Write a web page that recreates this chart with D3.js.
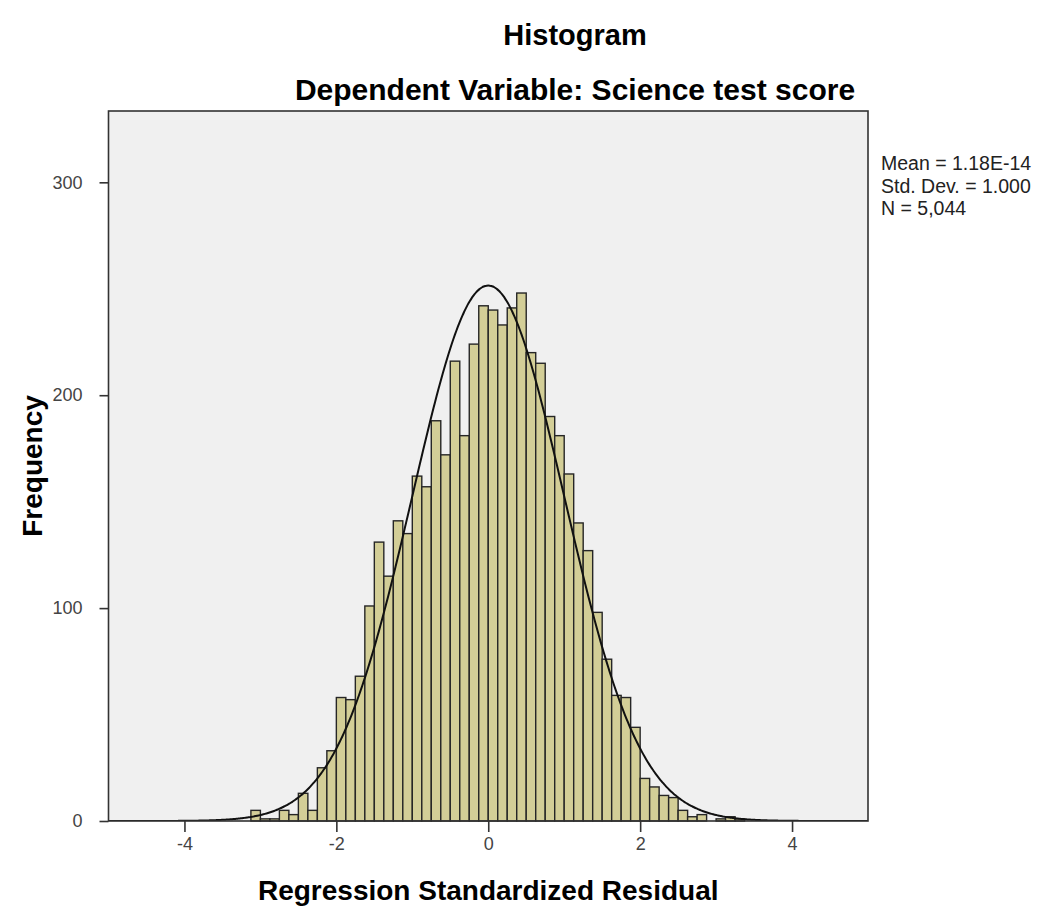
<!DOCTYPE html>
<html>
<head>
<meta charset="utf-8">
<script src="https://cdn.jsdelivr.net/npm/d3@7"></script>
<style>
  html, body { margin: 0; padding: 0; background: #fff; }
  svg text { font-family: Arial, "Liberation Sans", sans-serif; }
</style>
</head>
<body>
<div id="chart"></div>
<script>
// ---- data ----
const BIN_WIDTH = 0.125;
const binLower = [
  -3.125, -3.0, -2.875, -2.75, -2.625, -2.5, -2.375, -2.25, -2.125, -2.0,
  -1.875, -1.75, -1.625, -1.5, -1.375, -1.25, -1.125, -1.0, -0.875, -0.75,
  -0.625, -0.5, -0.375, -0.25, -0.125,
  0.0, 0.125, 0.25, 0.375, 0.5, 0.625, 0.75, 0.875, 1.0, 1.125,
  1.25, 1.375, 1.5, 1.625, 1.75, 1.875, 2.0, 2.125, 2.25, 2.375,
  2.5, 2.625, 2.75, 2.875, 3.0, 3.125, 3.25
];
const counts = [
  5, 1, 1, 5, 3, 13, 5, 25, 33, 58,
  57, 68, 101, 131, 115, 141, 135, 162, 157, 188,
  172, 216, 181, 224, 242,
  240, 233, 241, 248, 220, 215, 190, 181, 163, 140,
  127, 98, 76, 59, 58, 44, 20, 16, 12, 11,
  5, 2, 3, 0, 1, 2, 1
];
const xTicks = [-4, -2, 0, 2, 4];
const yTicks = [0, 100, 200, 300];
const statLines = ['Mean = 1.18E-14', 'Std. Dev. = 1.000', 'N = 5,044'];
const stats = { mean: 1.18e-14, sd: 1.0, n: 5044 };

const titles = ['Histogram', 'Dependent Variable: Science test score'];
const xTitle = 'Regression Standardized Residual';
const yTitle = 'Frequency';

// ---- layout ----
const W = 1039, H = 907;
const plot = { left: 108.5, right: 868, top: 111, bottom: 821 };

const svg = d3.select('#chart').append('svg')
  .attr('width', W).attr('height', H);

const x = d3.scaleLinear().domain([-5, 5]).range([plot.left, plot.right]);
const y = d3.scaleLinear().domain([0, 333.5]).range([plot.bottom, plot.top]);

// plot background
svg.append('rect')
  .attr('x', plot.left).attr('y', plot.top)
  .attr('width', plot.right - plot.left).attr('height', plot.bottom - plot.top)
  .attr('fill', '#f0f0f0');

svg.append('clipPath').attr('id', 'clip')
  .append('rect')
  .attr('x', plot.left).attr('y', plot.top)
  .attr('width', plot.right - plot.left).attr('height', plot.bottom - plot.top);

// bars
const bins = binLower.map((lo, i) => ({ lo, hi: lo + BIN_WIDTH, n: counts[i] }));
svg.append('g')
  .selectAll('rect')
  .data(bins.filter(d => d.n > 0))
  .join('rect')
  .attr('x', d => x(d.lo))
  .attr('y', d => y(d.n))
  .attr('width', d => x(d.hi) - x(d.lo))
  .attr('height', d => y(0) - y(d.n))
  .attr('fill', '#d3ce97')
  .attr('stroke', '#262626')
  .attr('stroke-width', 1.4);

// normal curve from the stated mean / sd / N
const curvePts = d3.range(-5, 5.001, 0.02).map(v => [
  v,
  stats.n * BIN_WIDTH * Math.exp(-0.5 * ((v - stats.mean) / stats.sd) ** 2) / (stats.sd * Math.sqrt(2 * Math.PI))
]);
svg.append('path')
  .datum(curvePts)
  .attr('clip-path', 'url(#clip)')
  .attr('fill', 'none')
  .attr('stroke', '#111')
  .attr('stroke-width', 2)
  .attr('d', d3.line().x(d => x(d[0])).y(d => y(d[1])).curve(d3.curveBasis));

// frame
svg.append('rect')
  .attr('x', plot.left).attr('y', plot.top)
  .attr('width', plot.right - plot.left).attr('height', plot.bottom - plot.top)
  .attr('fill', 'none')
  .attr('stroke', '#333')
  .attr('stroke-width', 1.6);

// axes (SPSS prints a plain hyphen, not a unicode minus)
const fmt = d => String(d);
const xAxis = svg.append('g')
  .attr('transform', `translate(0,${plot.bottom})`)
  .call(d3.axisBottom(x).tickValues(xTicks).tickSize(11).tickPadding(5).tickFormat(fmt));
const yAxis = svg.append('g')
  .attr('transform', `translate(${plot.left},0)`)
  .call(d3.axisLeft(y).tickValues(yTicks).tickSize(9).tickPadding(17).tickFormat(fmt));
[xAxis, yAxis].forEach(g => {
  g.select('.domain').remove();
  g.selectAll('line').attr('stroke', '#333').attr('stroke-width', 1.6);
  g.selectAll('text')
    .attr('fill', '#444')
    .style('font-size', '18px');
});

// titles
svg.selectAll('text.title')
  .data(titles)
  .join('text')
  .attr('class', 'title')
  .attr('x', 575)
  .attr('y', (d, i) => 45 + i * 55)
  .attr('text-anchor', 'middle')
  .style('font-size', (d, i) => i === 0 ? '29px' : '30px')
  .style('font-weight', 'bold')
  .attr('fill', '#000')
  .text(d => d);

svg.append('text')
  .attr('x', (plot.left + plot.right) / 2)
  .attr('y', 900)
  .attr('text-anchor', 'middle')
  .style('font-size', '28px')
  .style('font-weight', 'bold')
  .text(xTitle);

svg.append('text')
  .attr('transform', `translate(42,${(plot.top + plot.bottom) / 2}) rotate(-90)`)
  .attr('text-anchor', 'middle')
  .style('font-size', '28px')
  .style('font-weight', 'bold')
  .text(yTitle);

// summary stats
svg.selectAll('text.stat')
  .data(statLines)
  .join('text')
  .attr('class', 'stat')
  .attr('x', 881)
  .attr('y', (d, i) => 170 + i * 22.5)
  .style('font-size', '19.5px')
  .attr('fill', '#222')
  .text(d => d);
</script>
</body>
</html>
